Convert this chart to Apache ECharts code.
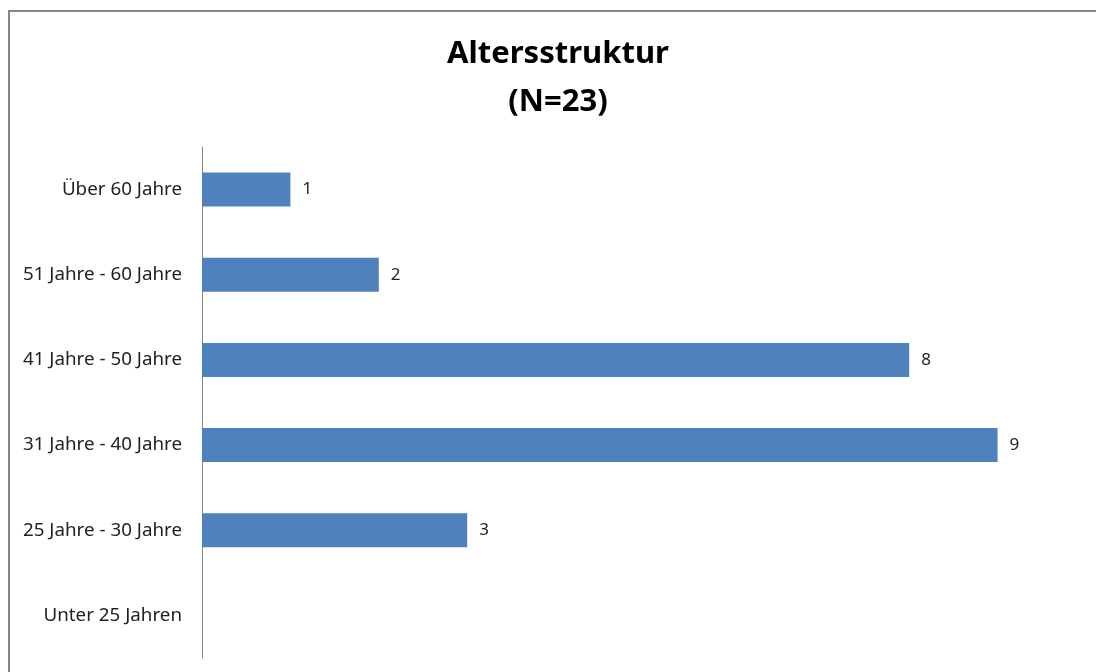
<!DOCTYPE html>
<html>
<head>
<meta charset="utf-8">
<script src="https://cdn.jsdelivr.net/npm/echarts@6/dist/echarts.min.js"></script>
<style>
  html, body { margin: 0; padding: 0; background: #fff; }
  #chart { width: 1096px; height: 672px; }
</style>
</head>
<body>
<div id="chart"></div>
<script>
// Age groups, bottom to top as drawn on the category axis
const categories = ['Unter 25 Jahren', '25 Jahre - 30 Jahre', '31 Jahre - 40 Jahre', '41 Jahre - 50 Jahre', '51 Jahre - 60 Jahre', 'Über 60 Jahre'];
const counts = [null, 3, 9, 8, 2, 1];
const titleLines = ['Altersstruktur', '(N=23)'];

const chart = echarts.init(document.getElementById('chart'), null, { renderer: 'canvas' });
const font = '"Noto Sans", "Open Sans", sans-serif';

chart.setOption({
  animation: false,
  backgroundColor: '#ffffff',
  graphic: [{
    type: 'rect',
    shape: { x: 9, y: 11, width: 1100, height: 680 },
    style: { fill: 'none', stroke: '#868686', lineWidth: 2 },
    silent: true
  }],
  title: {
    text: titleLines.join('\n'),
    left: 553,
    top: 25,
    textAlign: 'center',
    textStyle: { fontFamily: font, fontSize: 31, fontWeight: 'bold', color: '#000', lineHeight: 48 }
  },
  grid: { left: 202, right: 10, top: 147, bottom: 14, containLabel: false },
  xAxis: {
    type: 'value',
    min: 0,
    max: 10,
    show: false
  },
  yAxis: {
    type: 'category',
    data: categories,
    axisLine: { show: true, lineStyle: { color: '#868686', width: 1 } },
    axisTick: { show: false },
    axisLabel: { fontFamily: font, fontSize: 18.8, color: '#222', margin: 20 }
  },
  series: [{
    type: 'bar',
    data: counts,
    barWidth: '40%',
    itemStyle: { color: '#4F81BD' },
    label: {
      show: true,
      position: 'right',
      distance: 12,
      fontFamily: font,
      fontSize: 17,
      color: '#222'
    }
  }]
});
</script>
</body>
</html>
